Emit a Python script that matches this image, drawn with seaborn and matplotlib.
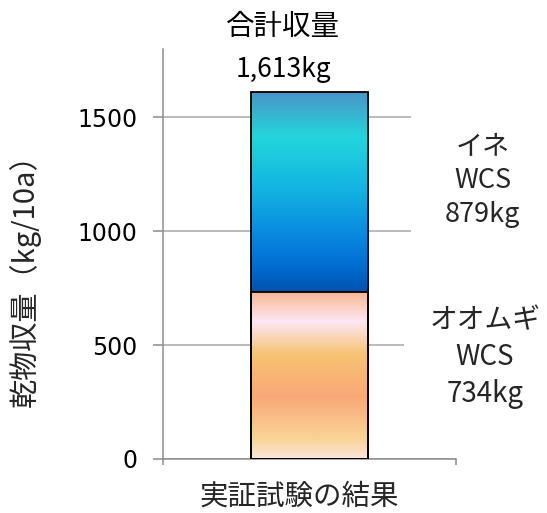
import numpy as np
import pandas as pd
import matplotlib
matplotlib.use("Agg")
import matplotlib.pyplot as plt
from matplotlib.colors import LinearSegmentedColormap
import seaborn as sns

# Data
categories = ["実証試験の結果"]
barley = [734]   # オオムギWCS (bottom segment)
rice = [879]     # イネWCS (top segment)
yticks = [0, 500, 1000, 1500]
ylabel = "乾物収量（kg/10a）"

sns.set_theme(style="white")
plt.rcParams["font.family"] = ["Noto Sans CJK JP", "DejaVu Sans"]

df = pd.DataFrame({"cat": categories, "barley": barley, "rice": rice})
df["total"] = df["barley"] + df["rice"]

W, H = 547, 513
fig = plt.figure(figsize=(W / 100, H / 100), dpi=100)
ax = fig.add_axes([163 / W, 1 - 459 / H, 293 / W, 410 / H])

# Stacked bar: total first, barley drawn over it
sns.barplot(data=df, x="cat", y="total", width=0.4, ax=ax, color="white",
            edgecolor="black", linewidth=1.3, zorder=3)
sns.barplot(data=df, x="cat", y="barley", width=0.4, ax=ax, color="white",
            edgecolor="black", linewidth=1.3, zorder=3)

top_cmap = LinearSegmentedColormap.from_list("rice", [
    (0.00, "#4a94c6"), (0.23, "#22d6dc"), (0.50, "#12b2e2"),
    (0.72, "#0888e0"), (0.88, "#006cd0"), (1.00, "#0052ae")])
bot_cmap = LinearSegmentedColormap.from_list("barley", [
    (0.00, "#f8b68e"), (0.18, "#fde6f4"), (0.38, "#f7c272"),
    (0.63, "#f9a878"), (0.88, "#f9d496"), (1.00, "#fce4dc")])

grad = np.linspace(0, 1, 256).reshape(-1, 1)
total_patch, barley_patch = ax.patches[0], ax.patches[1]
for patch, cmap, y0 in [(total_patch, top_cmap, barley_patch.get_height()),
                        (barley_patch, bot_cmap, 0)]:
    x0, w, h = patch.get_x(), patch.get_width(), patch.get_height()
    im = ax.imshow(grad, cmap=cmap, aspect="auto", origin="upper",
                   extent=[x0, x0 + w, y0, patch.get_y() + h], zorder=2)
    im.set_clip_path(patch)
    patch.set_facecolor("none")

ax.set_xlim(-0.5, 0.5)
ax.set_ylim(0, 1800)
ax.set_yticks(yticks)
ax.set_xticks([-0.5, 0.5])
ax.set_xticklabels([])
ax.set_xlabel("")
ax.set_ylabel("")

axis_gray = "#8c8c8c"
ax.yaxis.grid(True, color="#a8a8a8", linewidth=1.1)
ax.set_axisbelow(True)
for s in ["top", "right"]:
    ax.spines[s].set_visible(False)
for s in ["left", "bottom"]:
    ax.spines[s].set_color(axis_gray)
    ax.spines[s].set_linewidth(1.1)
ax.tick_params(axis="y", length=7.2, width=1.1, color=axis_gray, pad=11,
               labelsize=17, labelcolor="black", left=True)
ax.tick_params(axis="x", length=4.3, width=1.1, color=axis_gray, bottom=True)
for lbl in ax.get_yticklabels():
    lbl.set_fontfamily("DejaVu Sans")

# Total label above bar
total = int(df["total"].iloc[0])
ax.text(-0.09, 1895, "合計収量", ha="center", va="center", fontsize=20.5,
        color="black")
ax.text(-0.09, 1710, f"{total:,}kg", ha="center", va="center", fontsize=19,
        color="black")

# Segment labels on the right
box = dict(boxstyle="square,pad=1.25", facecolor="white", edgecolor="none")
ax.text(0.59, barley[0] + rice[0] * 0.555, f"イネ\nWCS\n{rice[0]}kg",
        ha="center", va="center", fontsize=19.5, linespacing=1.32,
        bbox=box, zorder=4)
box2 = dict(boxstyle="square,pad=0.9", facecolor="white", edgecolor="none")
ax.text(0.598, barley[0] * 0.61, f"オオムギ\nWCS\n{barley[0]}kg",
        ha="center", va="center", fontsize=20, linespacing=1.3,
        bbox=box2, zorder=4)

fig.text(25 / W, 1 - 273 / H, ylabel, rotation=90, ha="center",
         va="center", fontsize=21)
fig.text(299 / W, 1 - 497 / H, categories[0], ha="center", va="center",
         fontsize=20.5)

fig.savefig("out.png", dpi=100)
